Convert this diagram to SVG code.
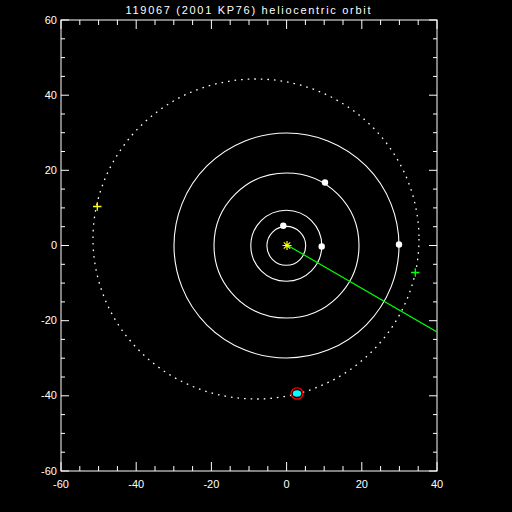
<svg xmlns="http://www.w3.org/2000/svg" width="512" height="512" viewBox="0 0 512 512">
<defs>
<style>
.ax{stroke:#fff;stroke-width:1;fill:none}
.lbl{fill:#fff;font-family:"Liberation Sans",Arial,sans-serif;font-size:11px}
.orb{stroke:#fff;stroke-width:1.1;fill:none}
.pl{fill:#fff}
</style>
<clipPath id="plotclip"><rect x="61" y="20" width="376" height="451"/></clipPath>
</defs>
<rect width="512" height="512" fill="#000"/>
<text x="248" y="14" text-anchor="middle" class="lbl" font-size="13" textLength="245" lengthAdjust="spacing">119067 (2001 KP76) heliocentric orbit</text>
<g id="axes">
<rect x="61" y="20" width="376" height="451" class="ax"/>
<path class="ax" d="M61,471v-9M136.2,471v-9M211.4,471v-9M286.6,471v-9M361.8,471v-9M437,471v-9
M79.8,471v-5M98.6,471v-5M117.4,471v-5M155,471v-5M173.8,471v-5M192.6,471v-5M230.2,471v-5M249,471v-5M267.8,471v-5M305.4,471v-5M324.2,471v-5M343,471v-5M380.6,471v-5M399.4,471v-5M418.2,471v-5
M61,20v9M136.2,20v9M211.4,20v9M286.6,20v9M361.8,20v9M437,20v9
M79.8,20v5M98.6,20v5M117.4,20v5M155,20v5M173.8,20v5M192.6,20v5M230.2,20v5M249,20v5M267.8,20v5M305.4,20v5M324.2,20v5M343,20v5M380.6,20v5M399.4,20v5M418.2,20v5
M61,20h8M61,95.2h8M61,170.3h8M61,245.5h8M61,320.7h8M61,395.8h8M61,471h8
M61,38.8h4M61,57.6h4M61,76.4h4M61,114h4M61,132.7h4M61,151.5h4M61,189.1h4M61,207.9h4M61,226.7h4M61,264.3h4M61,283.1h4M61,301.9h4M61,339.4h4M61,358.2h4M61,377h4M61,414.6h4M61,433.4h4M61,452.2h4
M437,20h-8M437,95.2h-8M437,170.3h-8M437,245.5h-8M437,320.7h-8M437,395.8h-8M437,471h-8
M437,38.8h-4M437,57.6h-4M437,76.4h-4M437,114h-4M437,132.7h-4M437,151.5h-4M437,189.1h-4M437,207.9h-4M437,226.7h-4M437,264.3h-4M437,283.1h-4M437,301.9h-4M437,339.4h-4M437,358.2h-4M437,377h-4M437,414.6h-4M437,433.4h-4M437,452.2h-4"/>
<g class="lbl" text-anchor="middle">
<text x="61" y="488">-60</text>
<text x="136.2" y="488">-40</text>
<text x="211.4" y="488">-20</text>
<text x="286.6" y="488">0</text>
<text x="361.8" y="488">20</text>
<text x="437" y="488">40</text>
</g>
<g class="lbl" text-anchor="end">
<text x="57" y="24">60</text>
<text x="57" y="99">40</text>
<text x="57" y="174">20</text>
<text x="57" y="249">0</text>
<text x="57" y="324">-20</text>
<text x="57" y="399">-40</text>
<text x="57" y="475">-60</text>
</g>
</g>
<g id="orbits">
<circle class="orb" cx="286.3" cy="245.8" r="19.4"/>
<circle class="orb" cx="286.3" cy="245.7" r="35.5"/>
<circle class="orb" cx="286.5" cy="245.5" r="72.5"/>
<circle class="orb" cx="286.5" cy="245.5" r="112.5"/>
<ellipse cx="256" cy="239" rx="163" ry="160" fill="none" stroke="#fff" stroke-width="1.3" stroke-dasharray="1.6 5"/>
</g>
<g id="connectors" clip-path="url(#plotclip)">
<line x1="287" y1="245" x2="437" y2="332" stroke="#00ff00" stroke-width="1.2"/>
</g>
<g id="planets">
<circle class="pl" cx="283.3" cy="225.8" r="3.2"/>
<circle class="pl" cx="321.7" cy="246.5" r="3.2"/>
<circle class="pl" cx="325" cy="182.5" r="3.2"/>
<circle class="pl" cx="399" cy="244.5" r="3.2"/>
</g>
<g id="sun" stroke="#ffff00" stroke-width="1.2">
<path d="M282.5,245.5h9M287,241v9M283.8,242.3l6.4,6.4M283.8,248.7l6.4,-6.4"/>
</g>
<g id="markers" stroke-width="1.3">
<path d="M93,206.5h8.5M97.3,202.3v8.5" stroke="#ffff00"/>
<path d="M411,272.5h8.5M415.3,268.3v8.5" stroke="#00ff00"/>
</g>
<g id="object">
<ellipse cx="297" cy="393.5" rx="4.2" ry="3.2" fill="#00ffff"/>
<ellipse cx="297" cy="393.5" rx="6" ry="5.7" fill="none" stroke="#ff0000" stroke-width="1.3"/>
</g>
</svg>
